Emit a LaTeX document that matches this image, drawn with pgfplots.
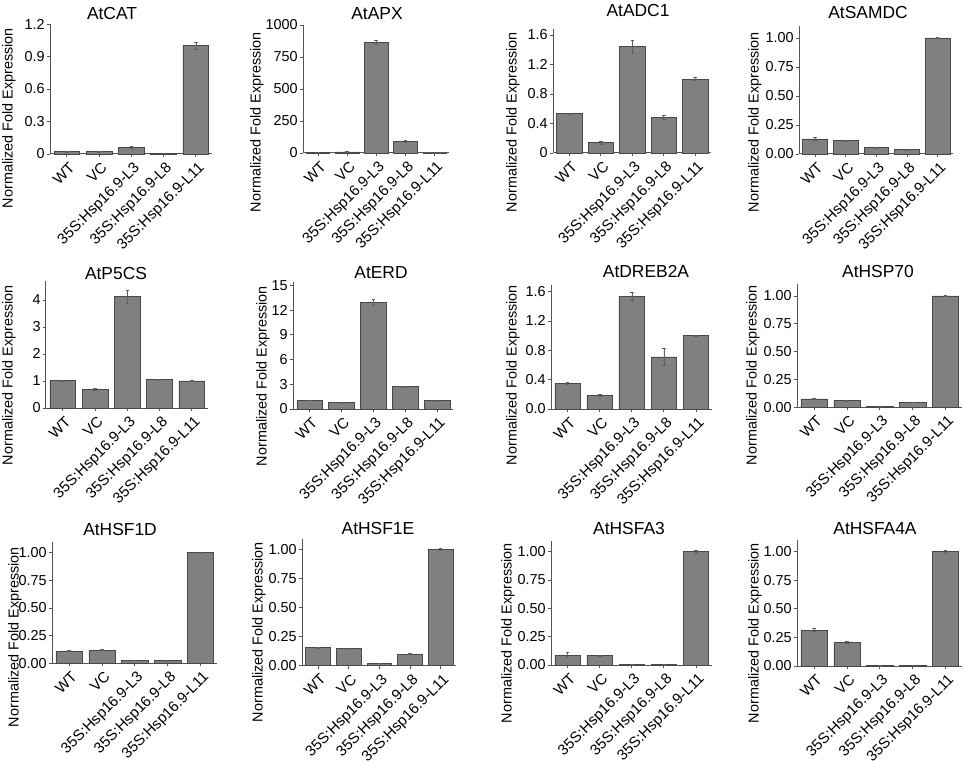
\documentclass[border=0pt]{standalone}
\usepackage{fontspec}
\setmainfont{Liberation Sans}
\usepackage{pgfplots}
\pgfplotsset{compat=1.18}
\definecolor{barfill}{HTML}{808080}
\definecolor{bardraw}{HTML}{484848}
\definecolor{axisc}{HTML}{555555}
\definecolor{errc}{HTML}{606060}
\newcommand\tickfont{\fontsize{7.2}{8}\selectfont}
\newcommand\xtickfont{\fontsize{7.5}{8}\selectfont}
\newcommand\labfont{\fontsize{7.2}{8}\selectfont}
\newcommand\titfont{\fontsize{8.7}{10}\selectfont}
\pgfplotsset{
  panel/.style={
    scale only axis, anchor=south west,
    axis x line=bottom, axis y line=left,
    axis line style={-, color=axisc, line width=0.5pt},
    xmin=-0.52, xmax=4.5, ymin=0,
    xtick={0,1,2,3,4},
    xticklabels={WT,VC,35S:Hsp16.9-L3,35S:Hsp16.9-L8,35S:Hsp16.9-L11},
    x tick label style={rotate=45, anchor=north east, inner sep=0.8pt, font=\xtickfont, yshift=-1pt},
    y tick label style={inner sep=1pt, font=\tickfont},
    tick align=outside, major tick length=1.5pt,
    tick style={color=axisc, line width=0.4pt},
    ybar, bar width=0.8,
    clip=false,
  },
  bars/.style={fill=barfill, draw=bardraw, line width=0.3pt,
    error bars/.cd, y dir=both, y explicit,
    error bar style={line width=0.3pt, color=errc},
    error mark options={rotate=90, mark size=0.9pt, line width=0.3pt, color=errc}},
  p01/.style={ytick={0,0.25,0.5,0.75,1}, yticklabels={0.00,0.25,0.50,0.75,1.00}},
}
\newcommand\ttl[3]{\node[font=\titfont, anchor=base] at (#1pt,#2pt) {#3};}
\newcommand\ylab[2]{\node[font=\labfont, rotate=90, anchor=center] at (#1pt,#2pt) {Normalized Fold Expression};}
\begin{document}
\begin{tikzpicture}
\path[use as bounding box] (0,0) rectangle (482pt,380.5pt);

% Row 1
\begin{axis}[panel, at={(25pt,303.5pt)}, width=81pt, height=65pt, ymax=1.2,
  ytick={0,0.3,0.6,0.9,1.2}, yticklabels={0,0.3,0.6,0.9,1.2}]
\addplot[bars] coordinates {(0,0.022) +- (0,0.004) (1,0.022) +- (0,0.006) (2,0.06) +- (0,0.008) (3,0.008) +- (0,0.002) (4,1.0) +- (0,0.03)};
\end{axis}
\ttl{56}{370.85}{AtCAT}\ylab{4.5}{321.5}

\begin{axis}[panel, at={(151.5pt,304pt)}, width=73pt, height=64pt, ymax=1000,
  ytick={0,250,500,750,1000}, yticklabels={0,250,500,750,1000}]
\addplot[bars] coordinates {(0,6) +- (0,2) (1,9) +- (0,2) (2,865) +- (0,15) (3,92) +- (0,10) (4,1) +- (0,0.2)};
\end{axis}
\ttl{188.5}{370.85}{AtAPX}\ylab{128.5}{319.5}

\begin{axis}[panel, at={(276.5pt,304pt)}, width=79pt, height=62pt, ymax=1.68,
  ytick={0,0.4,0.8,1.2,1.6}, yticklabels={0,0.4,0.8,1.2,1.6}]
\addplot[bars] coordinates {(0,0.535) +- (0,0.008) (1,0.14) +- (0,0.02) (2,1.44) +- (0,0.09) (3,0.48) +- (0,0.03) (4,1.0) +- (0,0.02)};
\end{axis}
\ttl{319}{372}{AtADC1}\ylab{256.5}{319.5}

\begin{axis}[panel, p01, at={(399.5pt,303.5pt)}, width=77pt, height=63.8pt, ymax=1.1]
\addplot[bars] coordinates {(0,0.13) +- (0,0.015) (1,0.115) +- (0,0.003) (2,0.055) +- (0,0.005) (3,0.037) +- (0,0.003) (4,1.0) +- (0,0.004)};
\end{axis}
\ttl{434}{371.35}{AtSAMDC}\ylab{377.5}{319.5}

% Row 2
\begin{axis}[panel, at={(23pt,176.5pt)}, width=81pt, height=63.5pt, ymax=4.7,
  ytick={0,1,2,3,4}, yticklabels={0,1,2,3,4}]
\addplot[bars] coordinates {(0,1.02) +- (0,0.02) (1,0.69) +- (0,0.03) (2,4.12) +- (0,0.23) (3,1.05) +- (0,0.02) (4,1.0) +- (0,0.02)};
\end{axis}
\ttl{58}{240.85}{AtP5CS}\ylab{4.5}{193}

\begin{axis}[panel, at={(146.5pt,176pt)}, width=80pt, height=63.5pt, ymax=15.4,
  ytick={0,3,6,9,12,15}, yticklabels={0,3,6,9,12,15}]
\addplot[bars] coordinates {(0,1.08) +- (0,0.03) (1,0.76) +- (0,0.03) (2,12.96) +- (0,0.35) (3,2.73) +- (0,0.05) (4,1.0) +- (0,0.02)};
\end{axis}
\ttl{190.5}{241}{AtERD}\ylab{131.5}{192.5}

\begin{axis}[panel, at={(275.5pt,176pt)}, width=80.5pt, height=62pt, ymax=1.69,
  ytick={0,0.4,0.8,1.2,1.6}, yticklabels={0.0,0.4,0.8,1.2,1.6}]
\addplot[bars] coordinates {(0,0.35) +- (0,0.01) (1,0.186) +- (0,0.008) (2,1.537) +- (0,0.05) (3,0.71) +- (0,0.12) (4,1.0) +- (0,0.005)};
\end{axis}
\ttl{323}{241.5}{AtDREB2A}\ylab{256.5}{193}

\begin{axis}[panel, p01, at={(398.5pt,176.85pt)}, width=82.5pt, height=61.5pt, ymax=1.105]
\addplot[bars] coordinates {(0,0.075) +- (0,0.005) (1,0.06) +- (0,0.004) (2,0.009) +- (0,0.001) (3,0.045) +- (0,0.002) (4,1.0) +- (0,0.005)};
\end{axis}
\ttl{439}{241.5}{AtHSP70}\ylab{376.5}{193}

% Row 3
\begin{axis}[panel, p01, at={(26pt,48.85pt)}, width=82.5pt, height=60.8pt, ymax=1.1]
\addplot[bars] coordinates {(0,0.111) +- (0,0.004) (1,0.12) +- (0,0.004) (2,0.027) +- (0,0.002) (3,0.024) +- (0,0.002) (4,1.0) +- (0,0.008)};
\end{axis}
\ttl{60}{112.5}{AtHSF1D}\ylab{7.5}{62}

\begin{axis}[panel, p01, at={(151pt,47.65pt)}, width=77pt, height=63.2pt, ymax=1.086]
\addplot[bars] coordinates {(0,0.155) +- (0,0.004) (1,0.146) +- (0,0.004) (2,0.02) +- (0,0.002) (3,0.10) +- (0,0.003) (4,1.0) +- (0,0.005)};
\end{axis}
\ttl{189}{113.5}{AtHSF1E}\ylab{129.5}{64.5}

\begin{axis}[panel, p01, at={(275.5pt,48pt)}, width=80.5pt, height=62.15pt, ymax=1.097]
\addplot[bars] coordinates {(0,0.088) +- (0,0.02) (1,0.082) +- (0,0.005) (2,0.003) +- (0,0.001) (3,0.003) +- (0,0.001) (4,1.0) +- (0,0.01)};
\end{axis}
\ttl{314.5}{113}{AtHSFA3}\ylab{254}{64}

\begin{axis}[panel, p01, at={(398.5pt,47.5pt)}, width=82.5pt, height=62.85pt, ymax=1.1]
\addplot[bars] coordinates {(0,0.315) +- (0,0.015) (1,0.207) +- (0,0.005) (2,0.002) +- (0,0.001) (3,0.005) +- (0,0.001) (4,1.0) +- (0,0.015)};
\end{axis}
\ttl{437.5}{113}{AtHSFA4A}\ylab{377.5}{64}
\end{tikzpicture}
\end{document}
